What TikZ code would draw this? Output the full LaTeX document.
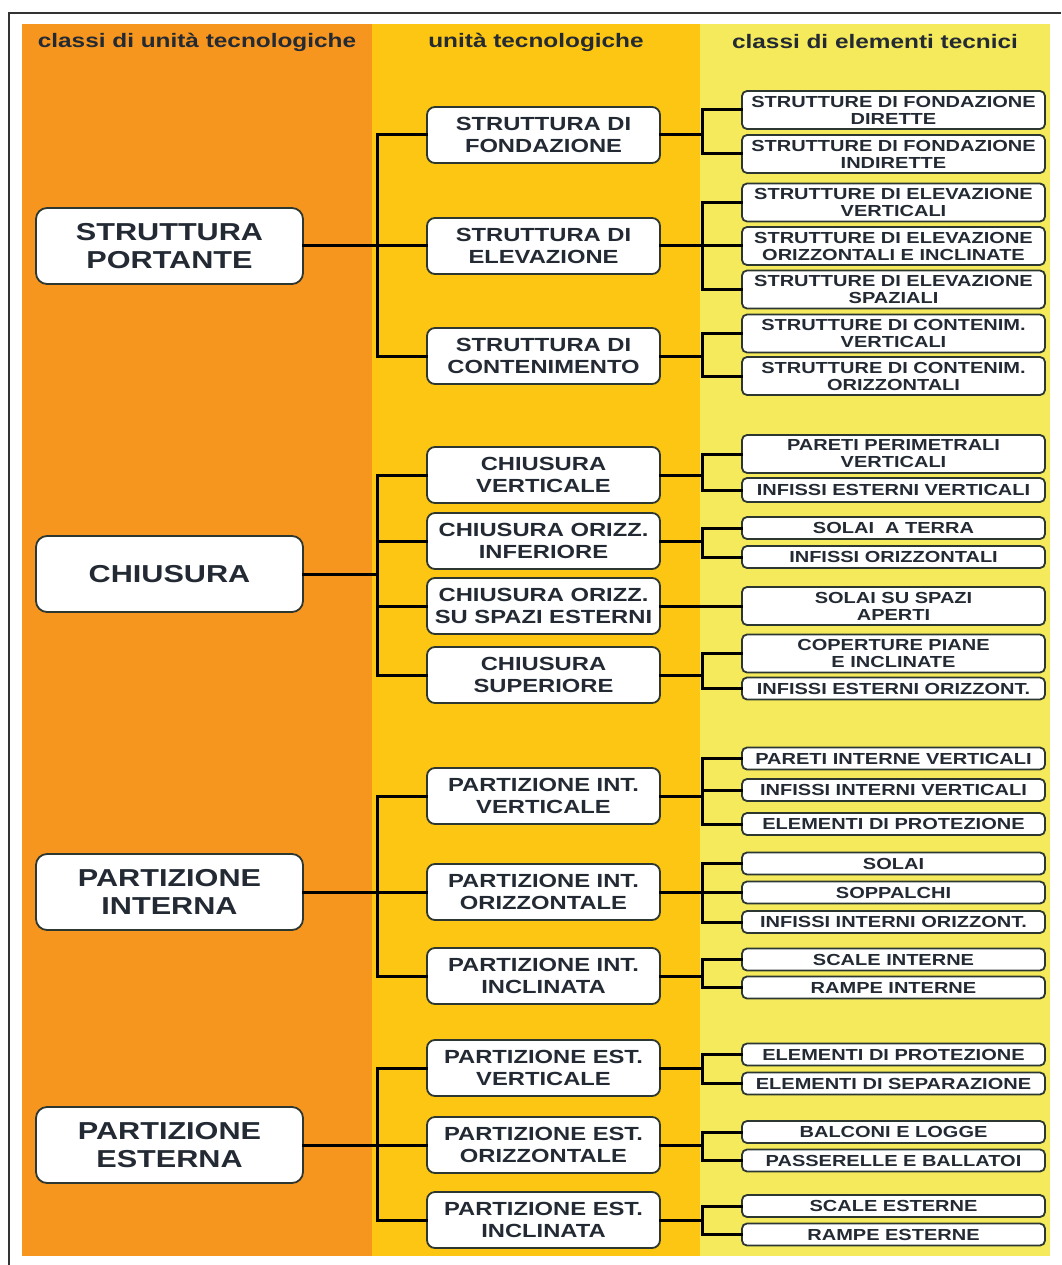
\documentclass[tikz,border=0pt]{standalone}
\usepackage{fontspec}
\setmainfont{Liberation Sans}[FakeStretch=1.25]
\usetikzlibrary{calc}

\definecolor{bandOrange}{RGB}{247,150,30}
\definecolor{bandGold}{RGB}{253,198,18}
\definecolor{bandLemon}{RGB}{244,234,92}
\definecolor{boxEdge}{RGB}{45,55,50}
\definecolor{inkDark}{RGB}{35,42,52}

\tikzset{
  hdr/.style={text=inkDark, font=\fontsize{19.5}{22}\selectfont\bfseries},
  boxbase/.style={draw=boxEdge, line width=1.8pt, fill=white, text=inkDark,
    align=center, inner sep=0pt},
  classbox/.style={boxbase, rounded corners=11pt, minimum width=267pt,
    minimum height=76pt, font=\fontsize{24.5}{28.5}\selectfont\bfseries},
  unitbox/.style={boxbase, rounded corners=8pt, minimum width=233pt,
    minimum height=56pt, font=\fontsize{19}{22}\selectfont\bfseries},
  elemtwo/.style={boxbase, rounded corners=5pt, minimum width=303pt,
    minimum height=38pt, font=\fontsize{16}{17}\selectfont\bfseries},
  elemone/.style={boxbase, rounded corners=5pt, minimum width=303pt,
    minimum height=22pt, font=\fontsize{16}{17}\selectfont\bfseries},
  link/.style={draw=black, line width=3pt, line cap=rect, line join=miter},
}

% parent -> vertical trunk at x of #2 -> each child
\newcommand\fork[3]{%
  \draw[link] (#1.east) -- (#1.east -| #2);
  \foreach \kid in {#3} {\draw[link] (#1.east -| #2) |- (\kid.west);}
}

\begin{document}
\begin{tikzpicture}[x=1pt, y=-1pt]
\useasboundingbox (0,0) rectangle (1061,1265);

% coloured columns
\fill[bandOrange] (22,24) rectangle (372,1256);
\fill[bandGold]   (372,24) rectangle (700,1256);
\fill[bandLemon]  (700,24) rectangle (1050,1256);

% frame
\draw[line width=2.2pt, black!80] (9,1265) -- (9,13) -- (1061,13);

% column headings
\node[hdr] (h1) at (197,42) {classi di unità tecnologiche};
\node[hdr] (h2) at (536,42) {unità tecnologiche};
\node[hdr] (h3) at (875,42) {classi di elementi tecnici};

% trunk positions
\coordinate (t1) at (377,0);
\coordinate (t2) at (702,0);

% classes of technological units
\node[classbox] (A) at (169.5,246)  {STRUTTURA\\PORTANTE};
\node[classbox] (B) at (169.5,574)  {CHIUSURA};
\node[classbox] (C) at (169.5,892)  {PARTIZIONE\\INTERNA};
\node[classbox] (D) at (169.5,1145) {PARTIZIONE\\ESTERNA};

% technological units
\node[unitbox] (A1) at (543.5,135)  {STRUTTURA DI\\FONDAZIONE};
\node[unitbox] (A2) at (543.5,246)  {STRUTTURA DI\\ELEVAZIONE};
\node[unitbox] (A3) at (543.5,356)  {STRUTTURA DI\\CONTENIMENTO};
\node[unitbox] (B1) at (543.5,475)  {CHIUSURA\\VERTICALE};
\node[unitbox] (B2) at (543.5,541)  {CHIUSURA ORIZZ.\\INFERIORE};
\node[unitbox] (B3) at (543.5,606)  {CHIUSURA ORIZZ.\\SU SPAZI ESTERNI};
\node[unitbox] (B4) at (543.5,675)  {CHIUSURA\\SUPERIORE};
\node[unitbox] (C1) at (543.5,796)  {PARTIZIONE INT.\\VERTICALE};
\node[unitbox] (C2) at (543.5,892)  {PARTIZIONE INT.\\ORIZZONTALE};
\node[unitbox] (C3) at (543.5,976)  {PARTIZIONE INT.\\INCLINATA};
\node[unitbox] (D1) at (543.5,1068) {PARTIZIONE EST.\\VERTICALE};
\node[unitbox] (D2) at (543.5,1145) {PARTIZIONE EST.\\ORIZZONTALE};
\node[unitbox] (D3) at (543.5,1220) {PARTIZIONE EST.\\INCLINATA};

% classes of technical elements
\node[elemtwo] (A1a) at (893.5,110)   {STRUTTURE DI FONDAZIONE\\DIRETTE};
\node[elemtwo] (A1b) at (893.5,154)   {STRUTTURE DI FONDAZIONE\\INDIRETTE};
\node[elemtwo] (A2a) at (893.5,202.5) {STRUTTURE DI ELEVAZIONE\\VERTICALI};
\node[elemtwo] (A2b) at (893.5,246)   {STRUTTURE DI ELEVAZIONE\\ORIZZONTALI E INCLINATE};
\node[elemtwo] (A2c) at (893.5,289.5) {STRUTTURE DI ELEVAZIONE\\SPAZIALI};
\node[elemtwo] (A3a) at (893.5,333.5) {STRUTTURE DI CONTENIM.\\VERTICALI};
\node[elemtwo] (A3b) at (893.5,376)   {STRUTTURE DI CONTENIM.\\ORIZZONTALI};

\node[elemtwo] (B1a) at (893.5,454)   {PARETI PERIMETRALI\\VERTICALI};
\node[elemone, minimum height=24pt] (B1b) at (893.5,490) {INFISSI ESTERNI VERTICALI};
\node[elemone] (B2a) at (893.5,528)   {SOLAI\ \ A TERRA};
\node[elemone] (B2b) at (893.5,557)   {INFISSI ORIZZONTALI};
\node[elemtwo] (B3a) at (893.5,606)   {SOLAI SU SPAZI\\APERTI};
\node[elemtwo] (B4a) at (893.5,653.5) {COPERTURE PIANE\\E INCLINATE};
\node[elemone] (B4b) at (893.5,688.5) {INFISSI ESTERNI ORIZZONT.};

\node[elemone] (C1a) at (893.5,758.5) {PARETI INTERNE VERTICALI};
\node[elemone] (C1b) at (893.5,790)   {INFISSI INTERNI VERTICALI};
\node[elemone] (C1c) at (893.5,824)   {ELEMENTI DI PROTEZIONE};
\node[elemone] (C2a) at (893.5,863.5) {SOLAI};
\node[elemone] (C2b) at (893.5,892.5) {SOPPALCHI};
\node[elemone] (C2c) at (893.5,922)   {INFISSI INTERNI ORIZZONT.};
\node[elemone] (C3a) at (893.5,959.5) {SCALE INTERNE};
\node[elemone] (C3b) at (893.5,987.5) {RAMPE INTERNE};

\node[elemone] (D1a) at (893.5,1054.5) {ELEMENTI DI PROTEZIONE};
\node[elemone] (D1b) at (893.5,1083.5) {ELEMENTI DI SEPARAZIONE};
\node[elemone] (D2a) at (893.5,1132)   {BALCONI E LOGGE};
\node[elemone] (D2b) at (893.5,1160.5) {PASSERELLE E BALLATOI};
\node[elemone] (D3a) at (893.5,1206)   {SCALE ESTERNE};
\node[elemone] (D3b) at (893.5,1234.5) {RAMPE ESTERNE};

% connectors: classes -> units
\fork{A}{t1}{A1,A2,A3}
\fork{B}{t1}{B1,B2,B3,B4}
\fork{C}{t1}{C1,C2,C3}
\fork{D}{t1}{D1,D2,D3}

% connectors: units -> elements
\fork{A1}{t2}{A1a,A1b}
\fork{A2}{t2}{A2a,A2b,A2c}
\fork{A3}{t2}{A3a,A3b}
\fork{B1}{t2}{B1a,B1b}
\fork{B2}{t2}{B2a,B2b}
\fork{B3}{t2}{B3a}
\fork{B4}{t2}{B4a,B4b}
\fork{C1}{t2}{C1a,C1b,C1c}
\fork{C2}{t2}{C2a,C2b,C2c}
\fork{C3}{t2}{C3a,C3b}
\fork{D1}{t2}{D1a,D1b}
\fork{D2}{t2}{D2a,D2b}
\fork{D3}{t2}{D3a,D3b}
\end{tikzpicture}
\end{document}
